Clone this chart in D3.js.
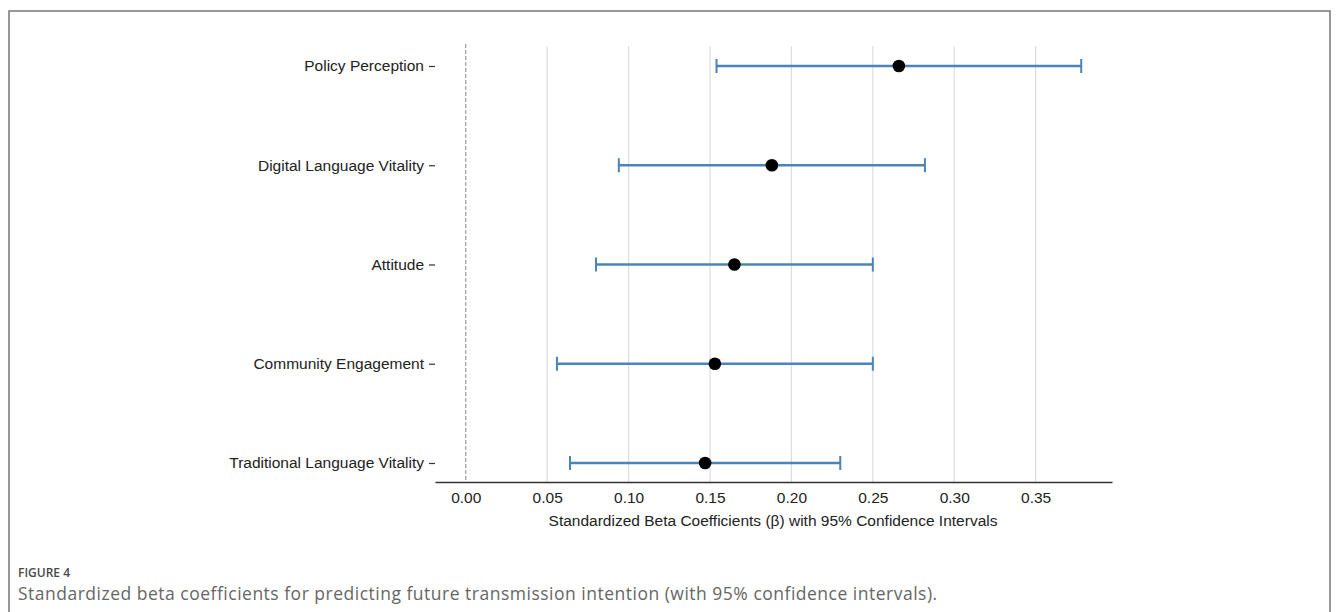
<!DOCTYPE html>
<html>
<head>
<meta charset="utf-8">
<script src="https://cdn.jsdelivr.net/npm/d3@7"></script>
<style>
  html, body { margin: 0; padding: 0; background: #fff; }
  svg { display: block; }
</style>
</head>
<body>
<svg id="chart" width="1336" height="612"></svg>
<script>
// ---- data ----
const categories = ["Policy Perception", "Digital Language Vitality", "Attitude", "Community Engagement", "Traditional Language Vitality"];
const betas    = [0.266, 0.188, 0.165, 0.153, 0.147];
const ciLower  = [0.154, 0.094, 0.080, 0.056, 0.064];
const ciUpper  = [0.378, 0.282, 0.250, 0.250, 0.230];
const xTicks   = [0.00, 0.05, 0.10, 0.15, 0.20, 0.25, 0.30, 0.35];
const xLabel   = "Standardized Beta Coefficients (\u03B2) with 95% Confidence Intervals";
const figLabel = "FIGURE 4";
const caption  = "Standardized beta coefficients for predicting future transmission intention (with 95% confidence intervals).";

const svg = d3.select("#chart");
const plot = { left: 435, right: 1112, top: 46, bottom: 482 };
const font = "Liberation Sans, Arial, sans-serif";

// frame
svg.append("path")
  .attr("d", "M9,640 L9,11 L1330,11 L1330,640")
  .attr("fill", "none").attr("stroke", "#777").attr("stroke-width", 1.5);

const x = d3.scaleLinear().domain([-0.0189, 0.3969]).range([plot.left, plot.right]);
const y = d3.scalePoint().domain(categories).range([66, 463]);

const g = svg.append("g");

// grid lines
g.selectAll("line.grid").data(xTicks.filter(t => t > 0)).join("line")
  .attr("class", "grid")
  .attr("x1", d => x(d)).attr("x2", d => x(d))
  .attr("y1", plot.top).attr("y2", plot.bottom)
  .attr("stroke", "#dcdcdc").attr("stroke-width", 1.2);

// zero reference line
g.append("line")
  .attr("x1", x(0)).attr("x2", x(0))
  .attr("y1", plot.top - 2).attr("y2", plot.bottom)
  .attr("stroke", "#888").attr("stroke-width", 1).attr("stroke-dasharray", "4,2");

// x axis
const xAxis = g.append("g")
  .attr("transform", `translate(0,${plot.bottom})`)
  .call(d3.axisBottom(x).tickValues(xTicks).tickFormat(d3.format(".2f")).tickSizeInner(0).tickSizeOuter(0).tickPadding(10));
xAxis.select(".domain").attr("stroke", "#333").attr("stroke-width", 1.3);
xAxis.selectAll("text").attr("font-family", font).attr("font-size", 15.5).attr("fill", "#222");

// y axis (ticks and labels only)
const yAxis = g.append("g")
  .attr("transform", `translate(${plot.left},0)`)
  .call(d3.axisLeft(y).tickSizeInner(6).tickSizeOuter(0).tickPadding(5));
yAxis.select(".domain").remove();
yAxis.selectAll("line").attr("stroke", "#333").attr("stroke-width", 1.2);
yAxis.selectAll("text").attr("font-family", font).attr("font-size", 15.5).attr("fill", "#222");

// error bars
const rows = categories.map((c, i) => ({ c, b: betas[i], lo: ciLower[i], hi: ciUpper[i] }));
const eb = g.selectAll("g.eb").data(rows).join("g").attr("class", "eb");
const blue = "#4a84bb";
eb.append("line")
  .attr("x1", d => x(d.lo)).attr("x2", d => x(d.hi))
  .attr("y1", d => y(d.c)).attr("y2", d => y(d.c))
  .attr("stroke", blue).attr("stroke-width", 2.6);
eb.append("line")
  .attr("x1", d => x(d.lo)).attr("x2", d => x(d.lo))
  .attr("y1", d => y(d.c) - 7).attr("y2", d => y(d.c) + 7)
  .attr("stroke", blue).attr("stroke-width", 2);
eb.append("line")
  .attr("x1", d => x(d.hi)).attr("x2", d => x(d.hi))
  .attr("y1", d => y(d.c) - 7).attr("y2", d => y(d.c) + 7)
  .attr("stroke", blue).attr("stroke-width", 2);
eb.append("circle")
  .attr("cx", d => x(d.b)).attr("cy", d => y(d.c)).attr("r", 6.3)
  .attr("fill", "#000");

// axis label
svg.append("text")
  .attr("x", 773).attr("y", 526)
  .attr("text-anchor", "middle")
  .attr("font-family", font).attr("font-size", 15.5)
  .attr("fill", "#222").text(xLabel);

// caption
svg.append("text")
  .attr("x", 18).attr("y", 577)
  .attr("font-family", "Open Sans, sans-serif").attr("font-size", 12).attr("font-weight", 600)
  .attr("fill", "#4a4a4a").text(figLabel);
svg.append("text")
  .attr("x", 18).attr("y", 600)
  .attr("font-family", "Open Sans, sans-serif").attr("font-size", 17.5)
  .attr("letter-spacing", 0.5)
  .attr("fill", "#666").text(caption);
</script>
</body>
</html>
